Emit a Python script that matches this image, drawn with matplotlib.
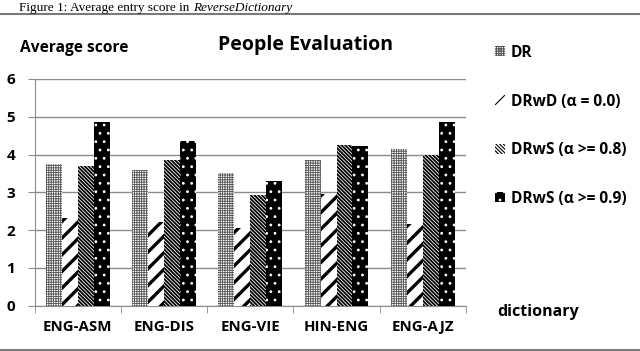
import numpy as np
import matplotlib.pyplot as plt
from matplotlib.lines import Line2D

SANS = ['Open Sans', 'DejaVu Sans']
SERIF = ['Liberation Serif', 'DejaVu Serif']
plt.rcParams['font.family'] = SANS

categories = ["ENG-ASM", "ENG-DIS", "ENG-VIE", "HIN-ENG", "ENG-AJZ"]
series = ["DR", "DRwD (\u03b1 = 0.0)", "DRwS (\u03b1 >= 0.8)", "DRwS (\u03b1 >= 0.9)"]
dr = [3.75, 3.58, 3.52, 3.86, 4.16]
drwd = [2.33, 2.22, 2.05, 2.96, 2.16]
drws8 = [3.70, 3.85, 2.93, 4.26, 3.99]
drws9 = [4.87, 4.35, 3.30, 4.23, 4.86]
values = [dr, drwd, drws8, drws9]

styles = [
    dict(facecolor="white", edgecolor="#555555", hatch="+++++++", hlw=0.6),
    dict(facecolor="white", edgecolor="black", hatch="//", hlw=2.4),
    dict(facecolor="white", edgecolor="black", hatch="\\" * 9, hlw=1.3),
    dict(facecolor="black", edgecolor="white", hatch="..", hlw=0.8),
]

fig = plt.figure(figsize=(6.4, 3.51), dpi=100)
ax = fig.add_axes([0.054, 0.129, 0.674, 0.646])

x = np.arange(len(categories))
w = 0.185
handles = []
for i, (vals, st) in enumerate(zip(values, styles)):
    plt.rcParams['hatch.linewidth'] = st["hlw"]
    bars = ax.bar(x + (i - 1.5) * w, vals, w, facecolor=st["facecolor"],
                  edgecolor=st["edgecolor"], hatch=st["hatch"], linewidth=0,
                  label=series[i], zorder=3)
    for b in bars:
        if hasattr(b, "set_hatch_linewidth"):
            b.set_hatch_linewidth(st["hlw"])
    handles.append(bars)

ax.set_xlim(-0.5, len(categories) - 0.5)
ax.set_ylim(0, 6)
ax.set_yticks(range(7))
ax.yaxis.grid(True, color="#8c8c8c", linewidth=1.0, zorder=0)
ax.set_xticks(x)
ax.set_xticklabels(categories, fontweight="bold", fontsize=10.8)
ax.set_xticks(np.arange(-0.5, len(categories)), minor=True)
ax.tick_params(axis="x", which="major", length=0, pad=10)
ax.tick_params(axis="x", which="minor", length=5, color="#8c8c8c", direction="out")
ax.tick_params(axis="y", length=5, color="#8c8c8c", labelsize=11, pad=9)
for lab in ax.get_yticklabels():
    lab.set_fontweight("bold")
for s in ["top", "right"]:
    ax.spines[s].set_visible(False)
ax.spines["left"].set_color("#8c8c8c")
ax.spines["bottom"].set_color("#8c8c8c")

fig.text(0.477, 0.872, "People Evaluation", fontsize=14, fontweight="bold", ha="center", va="center")
fig.text(0.032, 0.862, "Average score", fontsize=11.2, fontweight="bold", ha="left", va="center")
fig.text(0.777, 0.111, "dictionary", fontsize=11.5, fontweight="bold", ha="left", va="center")

fig.legend(handles=handles, labels=series, loc="upper left", bbox_to_anchor=(0.752, 0.912),
           frameon=False, handlelength=0.6, handleheight=0.6, handletextpad=0.4,
           labelspacing=2.1, prop=dict(weight="bold", size=11.2))

# caption (cut in the source) and rules
renderer = fig.canvas.get_renderer()
cap1 = fig.text(0.03, 0.968, "Figure 1: Average entry score in ", family=SERIF,
                fontsize=9.5, ha="left", va="baseline")
bb = cap1.get_window_extent(renderer)
fig.text(bb.x1 / fig.bbox.width, 0.968, "ReverseDictionary", family=SERIF,
         fontsize=9.5, style="italic", ha="left", va="baseline")
fig.add_artist(Line2D([0, 1], [0.960, 0.960], color="#7a7a7a", linewidth=1.5))
fig.add_artist(Line2D([0, 1], [0.004, 0.004], color="#7a7a7a", linewidth=1.5))

fig.savefig("out.png", dpi=100)
